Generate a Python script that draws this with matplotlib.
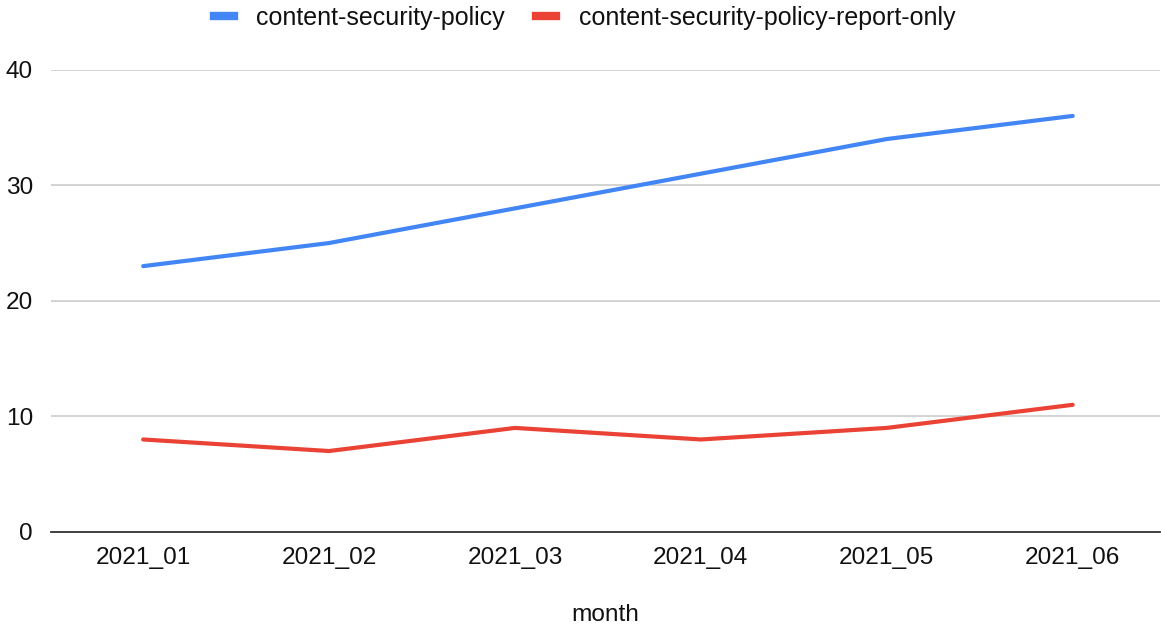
import matplotlib.pyplot as plt
from matplotlib.lines import Line2D

# datos
months = ["2021_01", "2021_02", "2021_03", "2021_04", "2021_05", "2021_06"]
csp = [23, 25, 28, 31, 34, 36]
csp_report_only = [8, 7, 9, 8, 9, 11]

plt.rcParams['font.family'] = ['Liberation Sans', 'DejaVu Sans']

fig = plt.figure(figsize=(11.62, 6.28), dpi=100)
ax = fig.add_axes([0.044, 0.153, 0.954, 0.736])

x = list(range(len(months)))
ax.plot(x, csp, color="#4285F4", linewidth=3, solid_capstyle="round")
ax.plot(x, csp_report_only, color="#EA4335", linewidth=3, solid_capstyle="round")

ax.set_xlim(-0.495, 5.468)
ax.set_ylim(0, 40)
ax.set_yticks([0, 10, 20, 30, 40])
ax.set_xticks(x)
ax.set_xticklabels(months)
ax.tick_params(axis="both", length=0, labelsize=17.6, colors="#111111")
ax.tick_params(axis="x", pad=11)
ax.tick_params(axis="y", pad=13)

ax.grid(axis="y", color="#cccccc", linewidth=1.2)
ax.set_axisbelow(True)
for s in ["top", "right", "left"]:
    ax.spines[s].set_visible(False)
ax.spines["bottom"].set_color("#333333")
ax.spines["bottom"].set_linewidth(1.3)
ax.spines["bottom"].set_zorder(5)

ax.set_xlabel("month", fontsize=17.6, color="#111111", labelpad=25)

handles = [Line2D([0], [0], color="#4285F4", linewidth=6),
           Line2D([0], [0], color="#EA4335", linewidth=6)]
fig.legend(handles, ["content-security-policy", "content-security-policy-report-only"],
           loc="center", bbox_to_anchor=(0.503, 0.971), ncol=2, frameon=False,
           fontsize=18, handlelength=0.8, columnspacing=1.25, handletextpad=0.9,
           labelcolor="#111111")

fig.savefig("out.png", dpi=100)
